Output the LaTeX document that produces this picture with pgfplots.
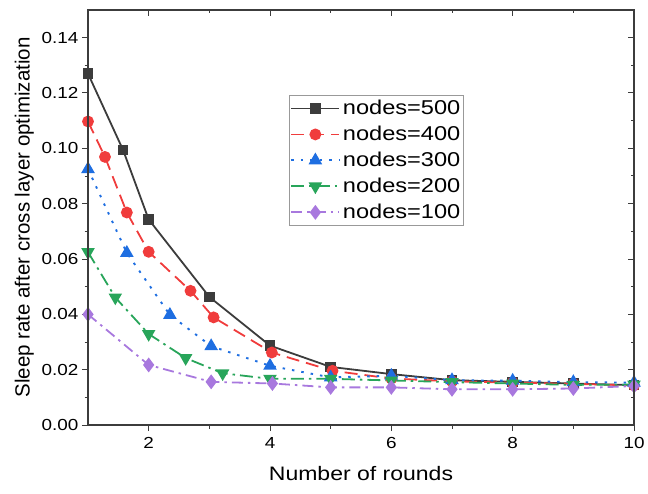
\documentclass[border=0pt]{standalone}
\usepackage{pgfplots}
\pgfplotsset{compat=1.18}
\usepackage{fontspec}
\setmainfont{Liberation Sans}
\newfontfamily\wide[FakeStretch=1.18]{Liberation Sans}
\usetikzlibrary{calc}
\definecolor{cblk}{RGB}{60,60,60}
\definecolor{cred}{RGB}{240,60,60}
\definecolor{cblu}{RGB}{30,110,225}
\definecolor{cgrn}{RGB}{40,165,90}
\definecolor{cpur}{RGB}{168,120,222}
\begin{document}
\begin{tikzpicture}
\pgfplotsset{
  common/.style={
    scale only axis, width=546bp, height=415bp,
    xmin=1, xmax=10, ymin=0, ymax=0.15,
    xtick={2,4,6,8,10}, ytick={0,0.02,0.04,0.06,0.08,0.10,0.12,0.14},
    minor x tick num=1, minor y tick num=1,
    axis line style={cblk, line width=1.1bp},
    major tick length=6bp, minor tick length=3.5bp,
    every tick/.style={cblk, line width=1bp},
  }
}
\begin{axis}[common, name=ax,
  xtick pos=left, ytick pos=left, tick align=outside,
  /pgf/number format/assume math mode=true,
  tick label style={font=\wide\fontsize{16bp}{18bp}\selectfont},
  xticklabel style={yshift=-3bp},
  yticklabel style={/pgf/number format/.cd, fixed, fixed zerofill, precision=2},
  scaled y ticks=false,
  xlabel={Number of rounds}, ylabel={Sleep rate after cross layer optimization},
  xlabel style={font=\wide\fontsize{19.5bp}{22bp}\selectfont, yshift=-11bp},
  ylabel style={font=\fontsize{20.5bp}{23bp}\selectfont, yshift=1bp},
  legend style={at={(0.368,0.795)}, anchor=north west, draw=gray!80, line width=0.8bp,
    font=\wide\fontsize{20bp}{23bp}\selectfont, row sep=6bp, inner xsep=1bp, inner ysep=3bp,
    nodes={inner xsep=2.5bp}},
  legend cell align=left,
  legend image code/.code={\draw[mark repeat=2,mark phase=2] plot coordinates {(0cm,0cm) (0.85cm,0cm) (1.7cm,0cm)};},
]
\addplot[cblk, line width=1.8bp, mark=square*, mark size=4.3bp, mark options={solid}] coordinates {
(1,0.127) (1.58,0.0993) (2,0.0743) (3,0.0463) (4,0.0287) (5,0.021) (6,0.0184) (7,0.0162) (8,0.0156) (9,0.015) (10,0.0144)};
\addlegendentry{nodes=500}
\addplot[cred, line width=1.8bp, dash pattern=on 13bp off 7bp, mark=*, mark size=5bp, mark options={solid}] coordinates {
(1,0.1097) (1.28,0.0969) (1.64,0.0768) (2,0.0626) (2.69,0.0485) (3.07,0.0389) (4.03,0.0262) (5.03,0.0196) (6,0.0168) (7,0.0158) (8,0.0153) (9,0.0149) (10,0.0143)};
\addlegendentry{nodes=400}
\addplot[cblu, line width=1.9bp, dash pattern=on 2.5bp off 7bp, mark=triangle*, mark size=6bp, mark options={solid}] coordinates {
(1,0.0925) (1.64,0.0622) (2.35,0.0398) (3.03,0.0285) (4,0.0214) (5,0.0172) (6,0.0178) (7,0.0162) (8,0.016) (9,0.0155) (10,0.0153)};
\addlegendentry{nodes=300}
\addplot[cgrn, line width=1.8bp, dash pattern=on 13bp off 5bp on 2.5bp off 5bp, mark=triangle*, mark size=6bp, mark options={solid, rotate=180}] coordinates {
(1,0.0625) (1.45,0.0461) (2,0.0329) (2.61,0.0242) (3.22,0.0187) (4,0.0167) (5,0.0167) (6,0.0161) (7,0.0155) (8,0.015) (9,0.0145) (10,0.0146)};
\addlegendentry{nodes=200}
\addplot[cpur, line width=1.8bp, dash pattern=on 11bp off 5bp on 2.5bp off 5bp, mark=diamond*, mark size=6bp, mark options={solid}] coordinates {
(1,0.040) (2,0.0217) (3.03,0.0156) (4.04,0.015) (5,0.0136) (6,0.0136) (7,0.0129) (8,0.0129) (9,0.0132) (10,0.0141)};
\addlegendentry{nodes=100}
\end{axis}
\begin{axis}[common,
  xtick pos=right, ytick pos=right, tick align=inside,
  xticklabels={}, yticklabels={},
]
\end{axis}
\pgfresetboundingbox
\path ($(ax.south west)+(-88bp,-68bp)$) rectangle ($(ax.north east)+(14bp,10bp)$);
\end{tikzpicture}
\end{document}
